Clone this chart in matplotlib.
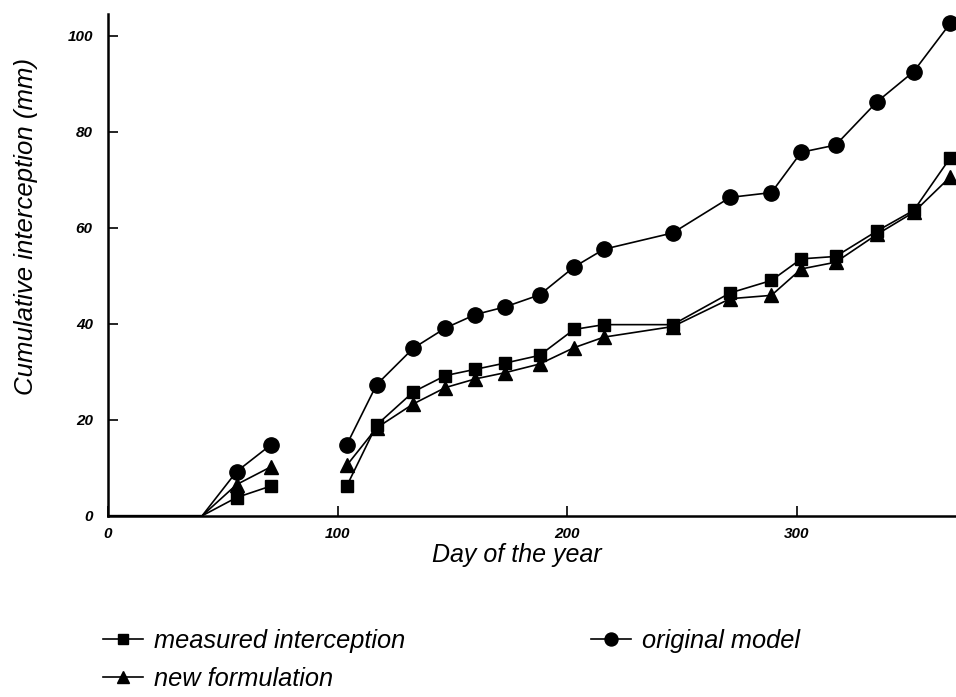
import matplotlib
matplotlib.use("Agg")
import matplotlib.pyplot as plt
import numpy as np

plt.rcParams['font.family'] = ['Liberation Sans', 'DejaVu Sans']

# day of year; the first two points (day 0 and 41) sit on the axis without markers
days = [0, 41, 56, 71, 104, 117, 133, 147, 160, 173, 188, 203, 216, 246,
        271, 289, 302, 317, 335, 351, 367]
measured = [0, 0, 3.8, 6.2, 6.2, 18.9, 25.8, 29.2, 30.5, 31.8, 33.4, 38.8,
            39.8, 39.8, 46.4, 49.0, 53.5, 54.0, 59.3, 63.6, 74.6]
new_form = [0, 0, 6.5, 10.2, 10.5, 18.3, 23.3, 26.7, 28.5, 29.8, 31.6, 35.0,
            37.2, 39.4, 45.2, 45.9, 51.4, 52.8, 58.6, 63.2, 70.6]
original = [0, 0, 9.2, 14.8, 14.8, 27.3, 34.9, 39.1, 41.9, 43.5, 46.0, 51.8,
            55.5, 58.9, 66.3, 67.3, 75.7, 77.2, 86.2, 92.5, 102.6]

# index where the record breaks (gap between day 71 and 104)
gap = 4

series = [
    ("measured interception", measured, "s", 8.5),
    ("new formulation", new_form, "^", 10),
    ("original model", original, "o", 11),
]

fig = plt.figure(figsize=(9.56, 6.97), dpi=100)
ax = fig.add_axes([0.113, 0.26, 0.886, 0.72])

handles = {}
for label, vals, mk, ms in series:
    ln, = ax.plot(days[:gap], vals[:gap], color="black", lw=1.2, marker=mk,
                  ms=ms, markevery=[2, 3], clip_on=False, label=label)
    ax.plot(days[gap:], vals[gap:], color="black", lw=1.2, marker=mk, ms=ms,
            clip_on=False)
    handles[label] = ln

ax.set_xlim(0, 369)
ax.set_ylim(0, 104.5)
ax.set_xticks([0, 100, 200, 300])
ax.set_yticks([0, 20, 40, 60, 80, 100])
for s in ["top", "right"]:
    ax.spines[s].set_visible(False)
for s in ["left", "bottom"]:
    ax.spines[s].set_linewidth(1.8)
ax.tick_params(axis="both", direction="in", length=7, width=1.2)
ax.tick_params(axis="y", pad=11)
ax.tick_params(axis="x", pad=8)
for t in ax.get_xticklabels() + ax.get_yticklabels():
    t.set_fontsize(11)
    t.set_fontstyle("italic")
    t.set_fontweight("bold")

ax.set_xlabel("Day of the year", fontsize=18, fontstyle="italic")
ax.xaxis.set_label_coords(0.483, -0.055)
ax.set_ylabel("Cumulative interception (mm)", fontsize=18.5, fontstyle="italic")
ax.yaxis.set_label_coords(-0.083, 0.576)

order = ["measured interception", "new formulation", "original model"]
fig.legend([handles[k] for k in order], order, ncol=2, loc="upper left",
           bbox_to_anchor=(103 / 956, 1 - 629 / 697), frameon=False,
           borderpad=0, borderaxespad=0,
           prop={"size": 18.3, "style": "italic"}, handlelength=1.57,
           handletextpad=0.45, columnspacing=7.3, labelspacing=0.55,
           markerscale=0.85)

fig.savefig("out.png", dpi=100)
